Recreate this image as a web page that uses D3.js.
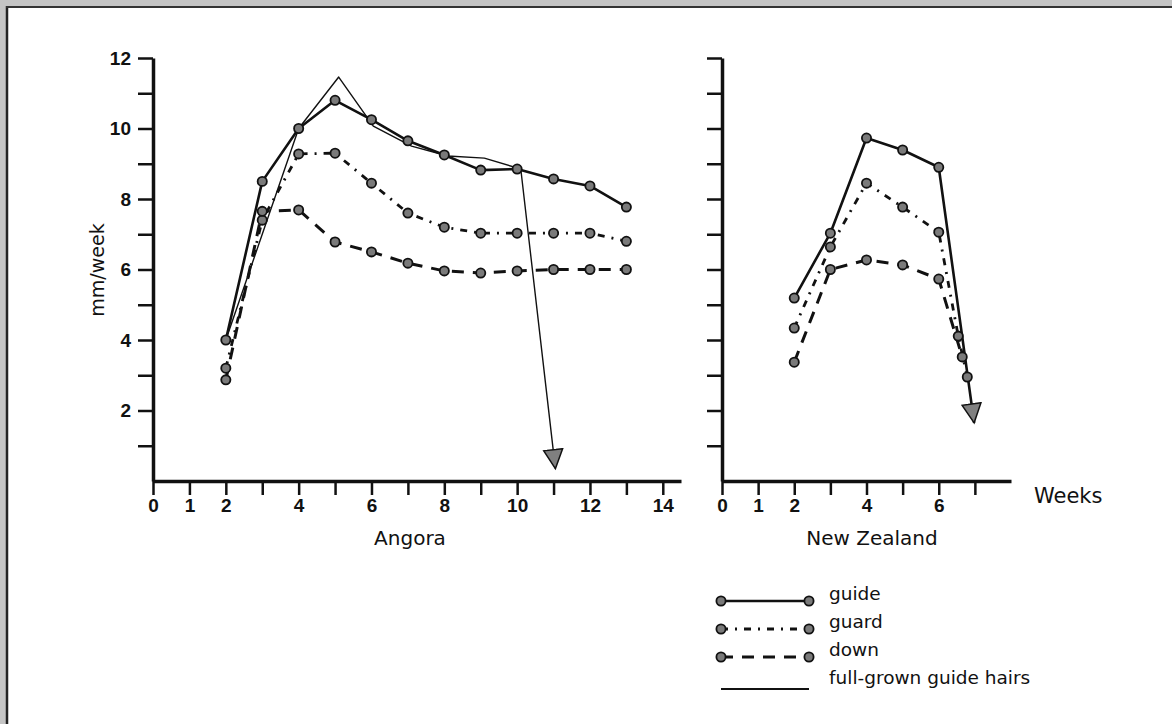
<!DOCTYPE html>
<meta charset="utf-8">
<script src="https://d3js.org/d3.v7.min.js"></script>
<style>
  body { margin: 0; background: #fff; }
  .tick text { font-family: "Liberation Sans", Arial, sans-serif; font-weight: bold; font-size: 19px; fill: #111; }
  .lbl { font-family: "DejaVu Sans", sans-serif; fill: #111; }
</style>
<div id="chart"></div>
<script>
// ---- data ----
var angoraWeeks = [2, 3, 4, 5, 6, 7, 8, 9, 10, 11, 12, 13];
var angoraGuide = [4.0, 8.5, 10.0, 10.8, 10.25, 9.65, 9.25, 8.82, 8.85, 8.57, 8.37, 7.77];
var angoraGuard = [3.2, 7.4, 9.28, 9.3, 8.45, 7.6, 7.2, 7.03, 7.03, 7.03, 7.03, 6.8];
var angoraDown  = [2.87, 7.65, 7.69, 6.78, 6.5, 6.18, 5.96, 5.9, 5.96, 6.0, 6.0, 6.0];
// thin "full-grown" line, ends in an arrow
var fullWeeks = [2, 4, 5.1, 6.05, 7.1, 8.1, 9.1, 10.1, 11.05];
var fullVals  = [4.0, 10.0, 11.46, 10.07, 9.5, 9.22, 9.16, 8.85, 0.35];

var nzWeeks = [2, 3, 4, 5, 6];
var nzGuide = [5.19, 7.03, 9.73, 9.39, 8.9];
var nzGuard = [4.34, 6.64, 8.45, 7.77, 7.06];
var nzDown  = [3.37, 6.0, 6.27, 6.13, 5.73];
// tails running into the arrow on the NZ panel
var nzGuideArrow = [6.98, 1.65];
var nzGuardTailW = [6.54, 6.79], nzGuardTailV = [4.11, 2.95];
var nzDownTailW  = [6.65],       nzDownTailV  = [3.52];

var yTicks = d3.range(1, 13);
var yLabels = [2, 4, 6, 8, 10, 12];
var angoraTicks = d3.range(0, 15);
var angoraLabels = [0, 1, 2, 4, 6, 8, 10, 12, 14];
var nzTicks = d3.range(0, 8);
var nzLabels = [0, 1, 2, 4, 6];
var legendNames = ["guide", "guard", "down", "full-grown guide hairs"];

// ---- setup ----
var W = 1172, H = 724;
var svg = d3.select("#chart").append("svg").attr("width", W).attr("height", H);

// scanned-page border: grey strips and a dark frame line
svg.append("rect").attr("x", 0).attr("y", 0).attr("width", 6).attr("height", H).style("fill", "#c4c4c4");
svg.append("rect").attr("x", 0).attr("y", 0).attr("width", W).attr("height", 6).style("fill", "#c4c4c4");
svg.append("line").attr("x1", 7).attr("x2", 7).attr("y1", 6).attr("y2", H).style("stroke", "#222").style("stroke-width", 2.5);
svg.append("line").attr("x1", 6).attr("x2", W).attr("y1", 7).attr("y2", 7).style("stroke", "#333").style("stroke-width", 2);

var defs = svg.append("defs");
defs.append("marker")
    .attr("id", "arrow")
    .attr("markerUnits", "userSpaceOnUse")
    .attr("viewBox", "-20 -11 22 22")
    .attr("refX", 0).attr("refY", 0)
    .attr("markerWidth", 22).attr("markerHeight", 22)
    .attr("orient", "auto")
  .append("path")
    .attr("d", "M0,0 L-19,-9.5 L-19,9.5 Z")
    .style("fill", "#808080").style("stroke", "#111").style("stroke-width", 1.5);

var y = d3.scaleLinear().domain([0, 12]).range([481, 58]);
var xA = d3.scaleLinear().domain([0, 14.5]).range([153, 681]);
var xN = d3.scaleLinear().domain([0, 8]).range([722, 1011]);

function drawAxes(x, ticks, labels, showY) {
  var gx = svg.append("g")
      .attr("transform", "translate(0," + y(0) + ")")
      .call(d3.axisBottom(x).tickValues(ticks).tickSize(14).tickSizeOuter(0)
        .tickPadding(4)
        .tickFormat(function(d) { return labels.indexOf(d) >= 0 ? d : ""; }));
  gx.select(".domain").style("stroke", "#111").style("stroke-width", 3.5);
  gx.selectAll(".tick line").style("stroke", "#111").style("stroke-width", 2.5);

  var gy = svg.append("g")
      .attr("transform", "translate(" + x(0) + ",0)")
      .call(d3.axisLeft(y).tickValues(yTicks).tickSize(15).tickSizeOuter(0)
        .tickPadding(7)
        .tickFormat(function(d) { return showY && yLabels.indexOf(d) >= 0 ? d : ""; }));
  gy.select(".domain").style("stroke", "#111").style("stroke-width", 3.5);
  gy.selectAll(".tick line").style("stroke", "#111").style("stroke-width", 2.5);
}
drawAxes(xA, angoraTicks, angoraLabels, true);
drawAxes(xN, nzTicks, nzLabels, false);

var styles = {
  guide: { width: 2.6, dash: null },
  guard: { width: 2.8, dash: "7,7,2,7" },
  down:  { width: 3,   dash: "12,9" },
  full:  { width: 1.4, dash: null }
};

function series(x, weeks, vals, st, arrow) {
  var pts = weeks.map(function(w, i) { return [x(w), y(vals[i])]; });
  var p = svg.append("path")
      .attr("d", d3.line()(pts))
      .style("fill", "none")
      .style("stroke", "#111")
      .style("stroke-width", st.width)
      .style("stroke-linejoin", "round");
  if (st.dash) p.style("stroke-dasharray", st.dash);
  if (arrow) p.attr("marker-end", "url(#arrow)");
}

function dots(x, weeks, vals) {
  svg.append("g").selectAll("circle")
    .data(weeks)
    .enter()
    .append("circle")
      .attr("cx", function(d) { return x(d); })
      .attr("cy", function(d, i) { return y(vals[i]); })
      .attr("r", 4.6)
      .style("fill", "#7a7a7a")
      .style("stroke", "#111")
      .style("stroke-width", 1.8);
}

// Angora
series(xA, fullWeeks, fullVals, styles.full, true);
series(xA, angoraWeeks, angoraGuide, styles.guide);
series(xA, angoraWeeks, angoraGuard, styles.guard);
series(xA, angoraWeeks, angoraDown, styles.down);
dots(xA, angoraWeeks, angoraGuide);
dots(xA, angoraWeeks, angoraGuard);
dots(xA, angoraWeeks, angoraDown);

// New Zealand
series(xN, nzWeeks.concat([nzGuideArrow[0]]), nzGuide.concat([nzGuideArrow[1]]), styles.guide, true);
series(xN, nzWeeks.concat(nzGuardTailW), nzGuard.concat(nzGuardTailV), styles.guard);
series(xN, nzWeeks.concat(nzDownTailW), nzDown.concat(nzDownTailV), styles.down);
dots(xN, nzWeeks, nzGuide);
dots(xN, nzWeeks.concat(nzGuardTailW), nzGuard.concat(nzGuardTailV));
dots(xN, nzWeeks.concat(nzDownTailW), nzDown.concat(nzDownTailV));

// labels
svg.append("text").attr("class", "lbl")
    .attr("transform", "translate(104,270) rotate(-90)")
    .attr("text-anchor", "middle")
    .style("font-size", "19px")
    .text("mm/week");
svg.append("text").attr("class", "lbl")
    .attr("x", 410).attr("y", 545)
    .attr("text-anchor", "middle")
    .style("font-size", "20px")
    .text("Angora");
svg.append("text").attr("class", "lbl")
    .attr("x", 872).attr("y", 545)
    .attr("text-anchor", "middle")
    .style("font-size", "20px")
    .text("New Zealand");
svg.append("text").attr("class", "lbl")
    .attr("x", 1034).attr("y", 503)
    .style("font-size", "21px")
    .text("Weeks");

// legend
var legX0 = 721, legX1 = 809, legY0 = 601, legStep = 28;
var legendStyles = [styles.guide, styles.guard, styles.down, styles.full];
legendNames.forEach(function(name, i) {
  var ly = legY0 + i * legStep + (i === 3 ? 4 : 0);
  var st = legendStyles[i];
  var l = svg.append("line")
      .attr("x1", legX0).attr("x2", legX1)
      .attr("y1", ly).attr("y2", ly)
      .style("stroke", "#111")
      .style("stroke-width", i === 3 ? 2 : st.width);
  if (st.dash) l.style("stroke-dasharray", st.dash);
  if (i < 3) {
    [legX0, legX1].forEach(function(cx) {
      svg.append("circle").attr("cx", cx).attr("cy", ly).attr("r", 4.6)
        .style("fill", "#7a7a7a").style("stroke", "#111").style("stroke-width", 1.8);
    });
  }
  svg.append("text").attr("class", "lbl")
      .attr("x", 829).attr("y", legY0 + i * legStep - 1)
      .style("font-size", "18.5px")
      .text(name);
});
</script>
